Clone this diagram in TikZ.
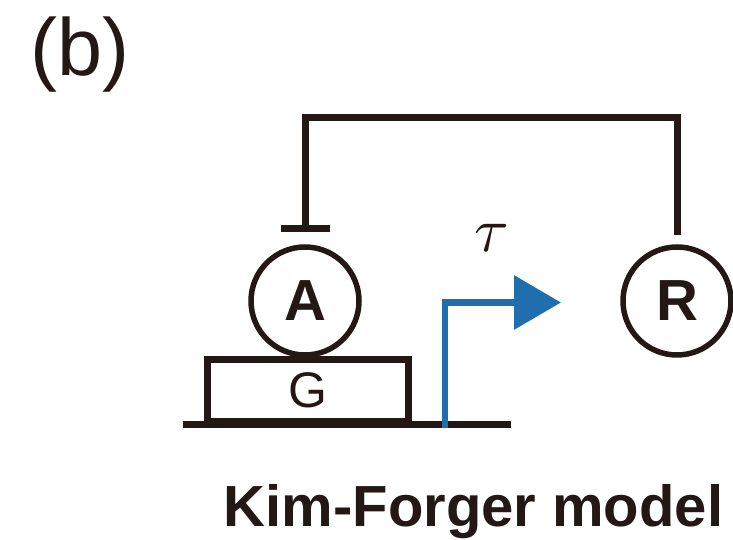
\documentclass[tikz,border=0pt]{standalone}
\usepackage{fontspec}
\setmainfont{Liberation Sans}
\usetikzlibrary{arrows.meta,positioning}
\definecolor{ink}{HTML}{231815}
\definecolor{promblue}{HTML}{1F6FAE}

\begin{document}
\begin{tikzpicture}[x=1pt,y=1pt,every node/.style={text=ink},
  prot/.style={circle,draw=ink,line width=5.5pt,minimum size=108pt,inner sep=0pt,outer sep=0pt,font=\fontsize{58}{58}\selectfont\bfseries},
  gene/.style={rectangle,draw=ink,line width=7pt,minimum width=201pt,minimum height=62.5pt,inner sep=0pt,outer sep=0pt,font=\fontsize{50}{50}\selectfont},
  repress/.style={draw=ink,line width=7pt,-{Bar[width=49pt]}},
  promoter/.style={draw=promblue,line width=6.7pt,-{Triangle[length=47pt,width=53pt]}}]
\useasboundingbox (0,0) rectangle (733,540);
\node (panel) at (80,485) {\fontsize{81}{82}\selectfont (b)};
\node[prot] (A) at (305,239) {A};
\node[prot] (R) at (677,239) {R};
\node[gene] (G) at (308,149.25) {G};
\coordinate (dnaL) at (183,115.5);
\coordinate (dnaR) at (511,115.5);
\coordinate (prom) at (445,112);
\coordinate (tip) at (561,237.5);
\draw[ink,line width=7pt] (dnaL) -- (dnaR);
% transcription start with delay
\draw[promoter] (prom) |- (tip);
\node (tau) at (492,302) {\scalebox{6.3}{$\tau$}};
% negative feedback of R on A
\draw[repress] ([yshift=12pt]R.north) |- (491,422.5) -| ([yshift=15pt]A.north);
\node[anchor=base] (title) at (473.5,13) {\fontsize{58}{60}\selectfont\bfseries Kim-Forger model};
\end{tikzpicture}
\end{document}
